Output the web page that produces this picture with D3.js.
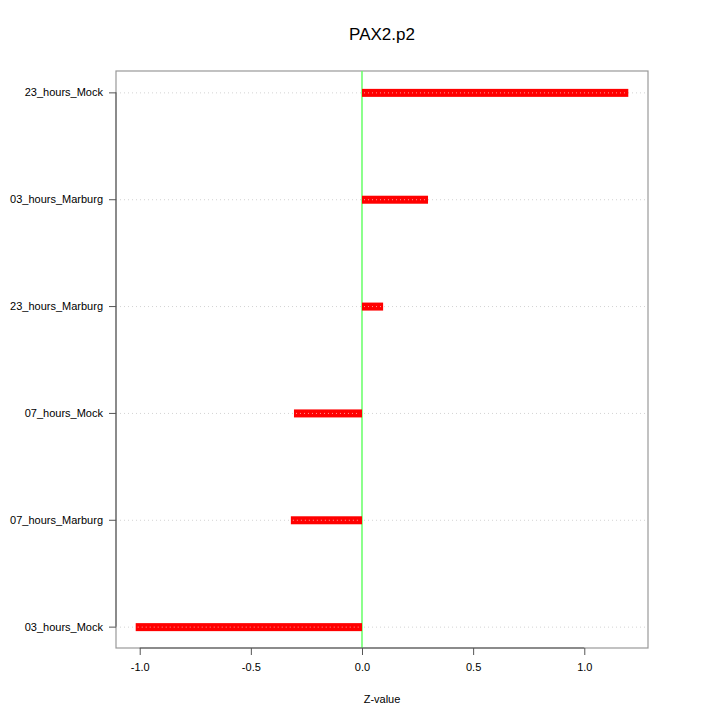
<!DOCTYPE html>
<html><head><meta charset="utf-8">
<script src="https://cdn.jsdelivr.net/npm/d3@7"></script>
<style>body{margin:0;background:#fff}svg{display:block}text{font-family:"Liberation Sans",Arial,sans-serif}</style>
</head><body>
<svg id="c" width="720" height="720"></svg>
<script>
const categories = ["03_hours_Mock","07_hours_Marburg","07_hours_Mock","23_hours_Marburg","03_hours_Marburg","23_hours_Mock"];
const values = [-1.018, -0.32, -0.306, 0.095, 0.297, 1.198];
const xTicks = [-1.0, -0.5, 0.0, 0.5, 1.0];
const title = "PAX2.p2";
const xLabel = "Z-value";

const svg = d3.select("#c");
const L = 116, R = 648, T = 71, B = 648;
const mn = d3.min(values), mx = d3.max(values), pad = (mx - mn) * 0.04;
const x = d3.scaleLinear().domain([mn - pad, mx + pad]).range([L, R]);
const y = d3.scaleLinear().domain([0.8, categories.length + 0.2]).range([B, T]);

// grid lines
svg.append("g").selectAll("line").data(categories).join("line")
  .attr("x1", L).attr("x2", R)
  .attr("y1", (d,i) => y(i+1)+0.5).attr("y2", (d,i) => y(i+1)+0.5)
  .attr("stroke", "#d3d3d3").attr("stroke-dasharray", "1,3");

// frame
svg.append("rect").attr("x", L).attr("y", T).attr("width", R-L).attr("height", B-T)
  .attr("fill", "none").attr("stroke", "#999").attr("stroke-width", 1.2);

// zero line
svg.append("line").attr("x1", x(0)).attr("x2", x(0)).attr("y1", T).attr("y2", B)
  .attr("stroke", "#66ff66").attr("stroke-width", 1.5);

// bars
const bars = svg.append("g");
bars.selectAll("rect").data(values).join("rect")
  .attr("x", d => Math.min(x(0), x(d)))
  .attr("width", d => Math.abs(x(d) - x(0)))
  .attr("y", (d,i) => y(i+1) - 3.5).attr("height", 8)
  .attr("fill", "#ff0000");
bars.selectAll("line").data(values).join("line")
  .attr("x1", d => Math.min(x(0), x(d)) + 2).attr("x2", d => Math.max(x(0), x(d)) - 2)
  .attr("y1", (d,i) => y(i+1)+0.5).attr("y2", (d,i) => y(i+1)+0.5)
  .attr("stroke", "#ff9999").attr("stroke-width", 1).attr("stroke-dasharray", "1,3");

// x axis
const fmt = d => d3.format(".1f")(d).replace("\u2212", "-");
const xa = svg.append("g").attr("transform", `translate(0,${B})`)
  .call(d3.axisBottom(x).tickValues(xTicks).tickFormat(fmt).tickSize(7).tickPadding(8));
xa.select(".domain").attr("d", `M${x(xTicks[0])},0H${x(xTicks[xTicks.length-1])}`).attr("stroke", "#555");
xa.selectAll(".tick line").attr("stroke", "#555");
xa.selectAll("text").attr("font-size", 11).attr("fill", "#000");

// y axis
const ya = svg.append("g").attr("transform", `translate(${L},0)`)
  .call(d3.axisLeft(y).tickValues(d3.range(1, categories.length+1)).tickFormat(d => categories[d-1]).tickSize(7).tickPadding(6));
ya.select(".domain").attr("d", `M0,${y(1)}V${y(categories.length)}`).attr("stroke", "#555");
ya.selectAll(".tick line").attr("stroke", "#555");
ya.selectAll("text").attr("font-size", 11).attr("fill", "#000");

svg.append("text").attr("x", (L+R)/2).attr("y", 40).attr("text-anchor", "middle")
  .attr("font-size", 17).text(title);
svg.append("text").attr("x", (L+R)/2).attr("y", 703).attr("text-anchor", "middle")
  .attr("font-size", 11).text(xLabel);
</script>
</body></html>
